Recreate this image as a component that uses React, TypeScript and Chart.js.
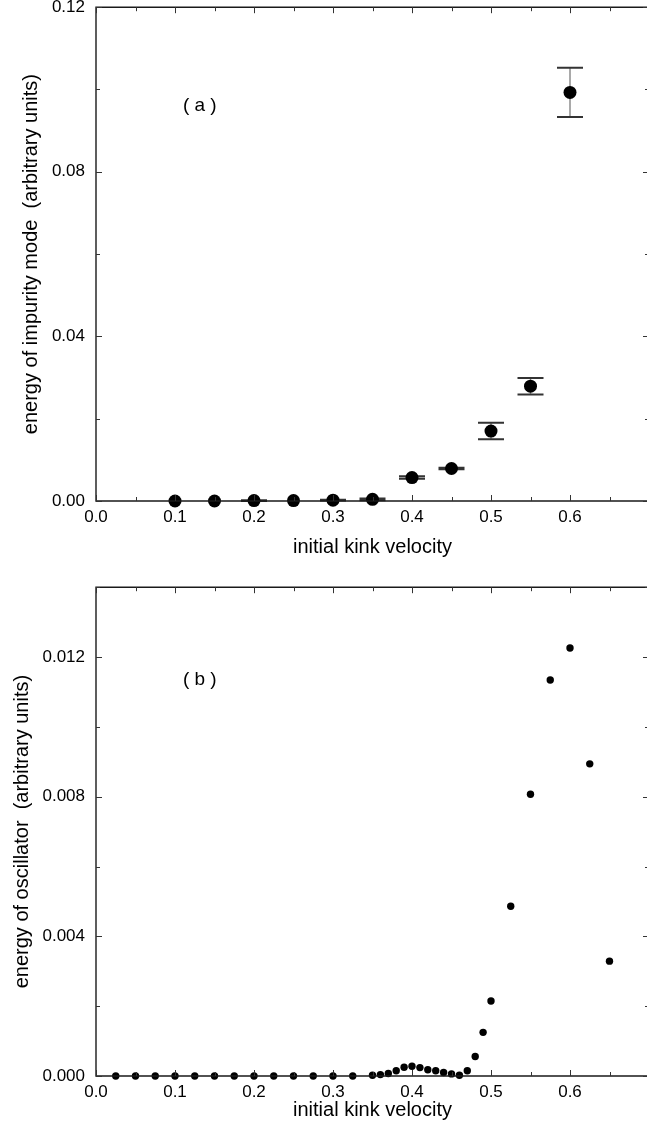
import { useEffect, useRef } from "react";
import { Chart, registerables } from "chart.js";

Chart.register(...registerables);

const FONT = "'Liberation Sans', Arial, Helvetica, sans-serif";

// Panel (a): impurity-mode energy with error bars
const velocityA = [0.1, 0.15, 0.2, 0.25, 0.3, 0.35, 0.4, 0.45, 0.5, 0.55, 0.6];
const energyA = [0.0, 0.0, 0.0001, 0.0001, 0.0002, 0.0004, 0.0057, 0.0079, 0.017, 0.0279, 0.0993];
const errorA = [0, 0, 0.0001, 0, 0.0001, 0.0002, 0.0003, 0.0002, 0.002, 0.002, 0.006];

// Panel (b): oscillator energy
const velocityB = [
  0.025, 0.05, 0.075, 0.1, 0.125, 0.15, 0.175, 0.2, 0.225, 0.25, 0.275, 0.3, 0.325,
  0.35, 0.36, 0.37, 0.38, 0.39, 0.4, 0.41, 0.42, 0.43, 0.44, 0.45, 0.46, 0.47, 0.48, 0.49,
  0.5, 0.525, 0.55, 0.575, 0.6, 0.625, 0.65,
];
const energyB = [
  0, 0, 0, 0, 0, 0, 0, 0, 0, 0, 0, 0, 0,
  0.00002, 0.00004, 0.00007, 0.00015, 0.00025, 0.00028, 0.00024, 0.00018, 0.00015, 0.0001, 0.00006, 0.00002, 0.00015, 0.00056, 0.00125,
  0.00215, 0.00486, 0.00807, 0.01134, 0.01226, 0.00894, 0.00329,
];

const xTickValues = [0, 0.1, 0.2, 0.3, 0.4, 0.5, 0.6];
const yTicksA = [0, 0.04, 0.08, 0.12];
const yTicksB = [0, 0.004, 0.008, 0.012];

// Box frame with inward major/minor ticks on all four sides
const framePlugin = {
  id: "frame",
  afterDraw(chart: any, _args: any, opts: any) {
    const { ctx, chartArea, scales } = chart;
    const { left, right, top, bottom } = chartArea;
    const x = scales.x;
    const y = scales.y;
    ctx.save();
    ctx.strokeStyle = "#1a1a1a";
    ctx.lineWidth = 1.4;
    ctx.beginPath();
    ctx.moveTo(left, top);
    ctx.lineTo(right, top);
    ctx.lineTo(right, bottom);
    ctx.lineTo(left, bottom);
    ctx.closePath();
    ctx.stroke();
    ctx.lineWidth = 1;
    ctx.strokeStyle = "#333";
    ctx.beginPath();
    for (let k = 0; ; k++) {
      const v = x.min + k * opts.xMinor;
      if (v > x.max + 1e-9) break;
      const px = Math.round(x.getPixelForValue(v)) + 0.5;
      const len = k % 2 === 0 ? 6 : 4;
      ctx.moveTo(px, bottom);
      ctx.lineTo(px, bottom - len);
      ctx.moveTo(px, top);
      ctx.lineTo(px, top + len);
    }
    for (let k = 0; ; k++) {
      const v = y.min + k * opts.yMinor;
      if (v > y.max + 1e-12) break;
      const py = Math.round(y.getPixelForValue(v)) + 0.5;
      const len = k % 2 === 0 ? 6 : 4;
      ctx.moveTo(left, py);
      ctx.lineTo(left + len, py);
      ctx.moveTo(right, py);
      ctx.lineTo(right - len, py);
    }
    ctx.stroke();
    ctx.restore();
  },
};

// Vertical error bars with horizontal caps
const errorBarPlugin = {
  id: "errorBars",
  beforeDatasetsDraw(chart: any, _args: any, opts: any) {
    if (!opts || !opts.errors) return;
    const { ctx, scales } = chart;
    const x = scales.x;
    const y = scales.y;
    const data = chart.data.datasets[0].data;
    ctx.save();
    data.forEach((p: any, i: number) => {
      const e = opts.errors[i];
      if (!e) return;
      const px = x.getPixelForValue(p.x);
      const y1 = y.getPixelForValue(p.y + e);
      const y2 = y.getPixelForValue(p.y - e);
      ctx.strokeStyle = "#8c8c8c";
      ctx.lineWidth = 1.5;
      ctx.beginPath();
      ctx.moveTo(px, y1);
      ctx.lineTo(px, y2);
      ctx.stroke();
      ctx.strokeStyle = "#333";
      ctx.lineWidth = 2;
      ctx.beginPath();
      ctx.moveTo(px - 13, y1);
      ctx.lineTo(px + 13, y1);
      ctx.moveTo(px - 13, y2);
      ctx.lineTo(px + 13, y2);
      ctx.stroke();
    });
    ctx.restore();
  },
};

// Panel tag such as "( a )" placed in data coordinates
const panelLabelPlugin = {
  id: "panelLabel",
  afterDraw(chart: any, _args: any, opts: any) {
    if (!opts || !opts.text) return;
    const { ctx, scales } = chart;
    ctx.save();
    ctx.font = `19px ${FONT}`;
    ctx.fillStyle = "#000";
    ctx.textAlign = "left";
    ctx.textBaseline = "middle";
    ctx.fillText(opts.text, scales.x.getPixelForValue(opts.x), scales.y.getPixelForValue(opts.y));
    ctx.restore();
  },
};

function makeConfig(p: {
  xs: number[];
  ys: number[];
  radius: number;
  yMax: number;
  yTicks: number[];
  decimals: number;
  yMinor: number;
  yTitle: string;
  yTitlePad: number;
  xAxisHeight: number;
  xTitlePad: number;
  label: string;
  labelY: number;
  errors?: number[];
}) {
  return {
    type: "scatter" as const,
    data: {
      datasets: [
        {
          data: p.xs.map((v, i) => ({ x: v, y: p.ys[i] })),
          pointRadius: p.radius,
          pointHoverRadius: p.radius,
          pointBackgroundColor: "#000",
          pointBorderWidth: 0,
          clip: false as const,
        },
      ],
    },
    options: {
      animation: false as const,
      responsive: false,
      events: [],
      layout: { padding: { top: 20, right: 11, bottom: 0, left: 0 } },
      plugins: {
        legend: { display: false },
        tooltip: { enabled: false },
        frame: { xMinor: 0.05, yMinor: p.yMinor },
        errorBars: { errors: p.errors },
        panelLabel: { text: p.label, x: 0.11, y: p.labelY },
      },
      scales: {
        x: {
          type: "linear" as const,
          min: 0,
          max: 0.7,
          grid: { display: false, drawTicks: false },
          border: { display: false },
          afterBuildTicks: (s: any) => {
            s.ticks = xTickValues.map((value) => ({ value }));
          },
          afterFit: (s: any) => {
            s.height = p.xAxisHeight;
          },
          ticks: {
            padding: 6,
            color: "#000",
            font: { family: FONT, size: 17 },
            maxRotation: 0,
            callback: (v: any) => Number(v).toFixed(1),
          },
          title: {
            display: true,
            text: "initial kink velocity",
            color: "#000",
            font: { family: FONT, size: 20 },
            padding: { top: 0, bottom: p.xTitlePad },
          },
        },
        y: {
          type: "linear" as const,
          min: 0,
          max: p.yMax,
          grid: { display: false, drawTicks: false },
          border: { display: false },
          afterBuildTicks: (s: any) => {
            s.ticks = p.yTicks.map((value) => ({ value }));
          },
          afterFit: (s: any) => {
            s.width = 96;
          },
          ticks: {
            padding: 11,
            color: "#000",
            font: { family: FONT, size: 17 },
            callback: (v: any) => Number(v).toFixed(p.decimals),
          },
          title: {
            display: true,
            text: p.yTitle,
            color: "#000",
            font: { family: FONT, size: 20 },
            padding: { top: p.yTitlePad, bottom: 0 },
          },
        },
      },
    },
    plugins: [errorBarPlugin, framePlugin, panelLabelPlugin],
  };
}

function Panel({ config, top, height }: { config: any; top: number; height: number }) {
  const ref = useRef<HTMLCanvasElement | null>(null);
  useEffect(() => {
    if (!ref.current) return;
    const chart = new Chart(ref.current, config);
    return () => chart.destroy();
  }, [config]);
  return (
    <canvas
      ref={ref}
      width={660}
      height={height}
      style={{ position: "absolute", left: 0, top, width: 660, height, display: "block" }}
    />
  );
}

const configA = makeConfig({
  xs: velocityA,
  ys: energyA,
  radius: 6.5,
  yMax: 0.12,
  yTicks: yTicksA,
  decimals: 2,
  yMinor: 0.02,
  yTitle: "energy of impurity mode  (arbitrary units)",
  yTitlePad: 19,
  xAxisHeight: 65,
  xTitlePad: 7,
  label: "( a )",
  labelY: 0.096,
  errors: errorA,
});

const configB = makeConfig({
  xs: velocityB,
  ys: energyB,
  radius: 3.7,
  yMax: 0.014,
  yTicks: yTicksB,
  decimals: 3,
  yMinor: 0.002,
  yTitle: "energy of oscillator  (arbitrary units)",
  yTitlePad: 10,
  xAxisHeight: 49,
  xTitlePad: 3,
  label: "( b )",
  labelY: 0.01135,
});

export default function App() {
  return (
    <div
      style={{
        position: "absolute",
        left: 0,
        top: 0,
        width: 647,
        height: 1125,
        overflow: "hidden",
        background: "#fff",
      }}
    >
      <Panel config={configA} top={-14} height={580} />
      <Panel config={configB} top={566} height={559} />
    </div>
  );
}
